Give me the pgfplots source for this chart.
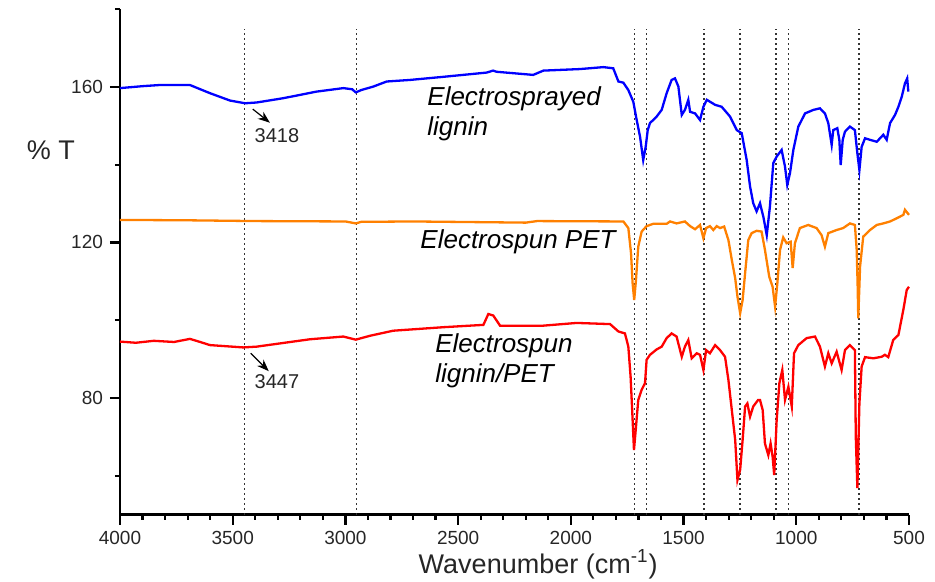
\documentclass[border=0pt]{standalone}
\usepackage{pgfplots}
\pgfplotsset{compat=1.18}
\usepackage{fontspec}
\setmainfont{Liberation Sans}
\usetikzlibrary{arrows.meta}

\definecolor{spblue}{RGB}{0,0,255}
\definecolor{sporange}{RGB}{255,128,0}
\definecolor{spred}{RGB}{255,0,0}

\pgfplotstableread{
x y
4000 159.7
3900 160.2
3823 160.5
3690 160.5
3601 158.4
3512 156.5
3445 155.8
3394 156.0
3276 157.1
3128 158.8
3009 159.7
2970 159.4
2954 158.6
2930 159.2
2876 160.1
2817 161.4
2714 161.8
2566 162.6
2373 163.7
2345 164.2
2329 163.9
2167 163.1
2122 164.2
1960 164.6
1856 165.1
1812 164.8
1789 161.4
1767 161.1
1745 159.2
1723 156.2
1708 151.5
1693 147.2
1679 141.2
1668 144.6
1659 148.9
1649 150.7
1619 152.4
1597 154.1
1575 158.4
1553 161.8
1538 162.2
1523 160.1
1508 152.8
1494 154.1
1479 156.7
1471 153.6
1449 153.2
1427 151.5
1412 154.9
1397 156.7
1360 155.4
1331 154.9
1294 152.4
1264 148.9
1242 148.1
1220 141.2
1205 134.4
1191 130.1
1176 128.0
1161 130.1
1146 126.6
1131 121.9
1117 129.2
1102 140.4
1087 142.1
1065 143.8
1050 139.5
1040 134.8
1028 137.8
1013 143.8
991 149.8
961 153.2
924 154.1
895 154.5
873 153.2
858 150.7
843 145.1
836 148.9
818 149.4
809 146.4
803 139.9
794 146.4
784 148.5
762 149.8
740 148.9
729 142.9
720 138.6
710 144.6
695 146.8
673 146.4
643 145.9
614 147.7
599 146.4
584 150.7
562 152.8
547 154.9
532 157.5
518 160.9
508 162.2
503 158.8
}\lignin

\pgfplotstableread{
x y
4000 125.8
3700 125.7
3400 125.5
3000 125.4
2954 124.9
2930 125.3
2700 125.4
2200 125.1
2150 125.5
1767 125.4
1745 123.7
1733 117.2
1726 109.5
1719 105.2
1711 110.4
1701 118.9
1686 122.8
1664 124.2
1634 124.8
1575 124.8
1560 125.4
1531 124.9
1494 125.4
1471 124.2
1449 123.4
1427 124.5
1412 121.1
1400 123.7
1383 124.2
1368 123.2
1353 124.2
1338 123.7
1320 124.1
1301 120.6
1286 115.5
1271 110.8
1261 106.1
1249 101.8
1238 105.2
1227 112.1
1213 120.6
1198 122.4
1176 123.0
1154 122.8
1139 118.1
1120 111.2
1105 108.6
1094 103.5
1084 109.5
1072 118.1
1058 121.3
1043 119.8
1025 120.2
1016 113.4
1006 119.8
984 123.7
947 124.5
910 123.7
888 121.9
873 118.9
858 122.4
821 123.2
792 123.7
762 124.9
740 124.5
732 118.1
728 109.5
725 100.5
717 113.8
703 121.5
673 123.2
643 124.5
614 124.9
584 125.4
555 126.2
525 127.1
518 128.4
500 127.1
}\pet

\pgfplotstableread{
x y
4000 94.5
3930 94.2
3850 94.7
3760 94.4
3690 95.2
3650 94.5
3601 93.6
3453 93.0
3394 93.2
3157 95.1
3009 95.8
2954 95.0
2891 96.0
2788 97.3
2566 98.2
2388 98.8
2366 101.6
2344 101.2
2314 98.6
2122 98.6
1974 99.3
1826 99.0
1789 97.1
1760 96.6
1745 93.2
1735 85.5
1728 76.9
1720 66.6
1711 72.6
1701 79.5
1686 82.1
1671 83.8
1664 89.8
1649 91.1
1619 92.5
1597 93.2
1575 95.4
1553 96.6
1531 95.8
1508 90.6
1494 93.2
1479 94.9
1464 90.2
1442 91.5
1427 91.1
1412 87.2
1400 92.3
1383 91.5
1360 93.6
1338 92.3
1316 90.6
1301 84.6
1286 76.9
1271 69.2
1261 58.9
1249 61.5
1238 69.2
1227 77.8
1217 78.6
1205 75.2
1191 77.8
1169 79.5
1161 79.5
1149 76.9
1139 68.3
1124 65.3
1114 68.3
1105 64.9
1098 60.2
1087 74.3
1075 83.8
1062 87.2
1050 79.5
1035 82.9
1020 77.8
1010 91.5
991 93.6
954 95.4
917 95.8
895 93.2
873 88.1
858 91.5
843 88.9
821 91.9
799 87.2
784 92.3
762 93.6
740 92.3
736 70.0
729 56.8
720 78.6
710 88.1
695 90.5
658 90.2
621 90.6
607 91.1
592 90.5
570 94.9
547 96.2
525 102.7
510 107.8
500 108.6
}\blend

\begin{document}
\begin{tikzpicture}
\begin{axis}[
    at={(0,0)}, anchor=south west,
    scale only axis, width=394.5pt, height=252.7pt,
    xmin=500, xmax=4000, x dir=reverse,
    ymin=50, ymax=180,
    axis lines=left,
    axis line style={-, line width=1.1pt},
    every outer x axis line/.append style={-},
    every outer y axis line/.append style={-},
    xtick={500,1000,...,4000},
    minor x tick num=4,
    ytick={80,120,160},
    minor ytick={60,100,140,180},
    tick align=outside,
    major tick length=5pt, minor tick length=2.5pt,
    tick style={black, line width=1.1pt},
    ticklabel style={font=\fontsize{9.5}{11}\selectfont, text=black!85},
    /pgf/number format/assume math mode=true,
    /pgf/number format/set thousands separator={},
    xlabel={Wavenumber (cm\textsuperscript{-1})},
    xlabel style={font=\fontsize{13.5}{15}\selectfont, text=black!85, at={(axis description cs:0.53,0)}, anchor=north, yshift=-14pt},
    clip=false,
]
% reference lines
\pgfplotsset{every axis plot/.append style={}}
\addplot[black!80, line width=0.8pt, dash pattern=on 0.8pt off 1.7pt] coordinates {(3447,50) (3447,175)};
\addplot[black!80, line width=0.8pt, dash pattern=on 0.8pt off 1.7pt] coordinates {(2950,50) (2950,175)};
\addplot[black!80, line width=0.8pt, dash pattern=on 0.8pt off 1.7pt] coordinates {(1717,50) (1717,175)};
\addplot[black!80, line width=0.8pt, dash pattern=on 0.8pt off 1.7pt] coordinates {(1665,50) (1665,175)};
\addplot[black!80, line width=0.8pt, dash pattern=on 0.8pt off 1.7pt] coordinates {(1410,50) (1410,175)};
\addplot[black!80, line width=0.8pt, dash pattern=on 0.8pt off 1.7pt] coordinates {(1250,50) (1250,175)};
\addplot[black!80, line width=0.8pt, dash pattern=on 0.8pt off 1.7pt] coordinates {(1090,50) (1090,175)};
\addplot[black!80, line width=0.8pt, dash pattern=on 0.8pt off 1.7pt] coordinates {(1035,50) (1035,175)};
\addplot[black!80, line width=0.8pt, dash pattern=on 0.8pt off 1.7pt] coordinates {(723,50) (723,175)};

\addplot[spblue, line width=1.15pt] table {\lignin};
\addplot[sporange, line width=1.15pt] table {\pet};
\addplot[spred, line width=1.15pt] table {\blend};

\node[font=\fontsize{13}{15}\selectfont\itshape, align=left, anchor=west, inner sep=0pt] at (axis cs:2638,153.2) {Electrosprayed\\lignin};
\node[font=\fontsize{13}{15}\selectfont\itshape, anchor=west, inner sep=0pt] at (axis cs:2669,120.3) {Electrospun PET};
\node[font=\fontsize{13}{15}\selectfont\itshape, align=left, anchor=west, inner sep=0pt] at (axis cs:2603,89.5) {Electrospun\\lignin/PET};

\draw[-{Stealth[length=6pt,width=4.5pt]}, line width=0.6pt] (axis cs:3411,154.3) -- (axis cs:3335,150.8);
\node[font=\fontsize{10}{12}\selectfont, text=black!85] at (axis cs:3304,147.5) {3418};
\draw[-{Stealth[length=6pt,width=4.5pt]}, line width=0.6pt] (axis cs:3420,91.5) -- (axis cs:3340,86.9);
\node[font=\fontsize{10}{12}\selectfont, text=black!85] at (axis cs:3304,84.2) {3447};

\node[font=\fontsize{13.5}{15}\selectfont, text=black!85] at (axis description cs:-0.0875,0.7215) {\% T};
\end{axis}
\pgfresetboundingbox
\path[use as bounding box] (-60pt,-33.7pt) rectangle (407.5pt,257.3pt);
\end{tikzpicture}
\end{document}
